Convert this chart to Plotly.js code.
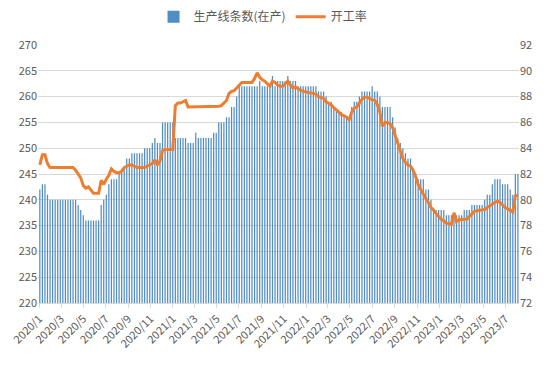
<!DOCTYPE html>
<html>
<head>
<meta charset="utf-8">
<script src="https://cdn.plot.ly/plotly-3.0.1.min.js"></script>
<style>
html,body{margin:0;padding:0;background:#fff;}
#chart{width:548px;height:372px;}
</style>
</head>
<body>
<div id="chart"></div>
<script>
// Weekly data, first week 2020-01-03
const startWeek = '2020-01-03';
const seriesNames = ['生产线条数(在产)', '开工率'];
const tickLabels = ['2020/1','2020/3','2020/5','2020/7','2020/9','2020/11',
  '2021/1','2021/3','2021/5','2021/7','2021/9','2021/11',
  '2022/1','2022/3','2022/5','2022/7','2022/9','2022/11',
  '2023/1','2023/3','2023/5','2023/7'];

const lines = [
  242,243,243,241,240,240,240,240,240,240,
  240,240,240,240,240,239,238,237,236,236,
  236,236,236,236,239,240,241,243,244,244,
  244,245,246,246,248,248,249,249,249,249,
  249,250,250,250,251,252,251,251,255,255,
  255,255,255,252,252,252,252,252,251,251,
  251,253,252,252,252,252,252,252,253,253,
  255,255,255,256,256,258,258,260,262,262,
  262,262,262,262,262,262,263,262,262,262,
  262,264,262,263,263,263,263,264,263,263,
  263,262,262,262,262,262,262,262,262,261,
  261,261,260,259,259,258,257,257,257,256,
  256,256,258,259,259,260,261,261,261,261,
  262,261,261,260,258,258,258,258,256,254,
  252,251,250,249,248,248,246,245,244,244,
  244,242,242,240,238,238,238,238,238,237,
  237,237,237,237,237,237,238,238,238,239,
  239,239,239,239,240,241,241,243,244,244,
  244,243,243,243,242,241,245,245
];

const rate = [
  82.7,83.5,83.5,82.8,82.5,82.5,82.5,82.5,82.5,82.5,
  82.5,82.5,82.5,82.5,82.3,82.0,81.7,81.1,80.9,81.0,
  80.7,80.5,80.5,80.5,81.5,81.2,81.6,81.9,82.4,82.2,
  82.1,82.1,82.2,82.5,82.6,82.7,82.7,82.6,82.5,82.5,
  82.5,82.5,82.6,82.7,82.8,83.1,82.7,83.0,83.8,83.9,
  83.9,83.9,83.9,87.3,87.5,87.5,87.6,87.7,87.2,87.2,
  87.2,87.2,87.2,87.2,87.2,87.2,87.2,87.2,87.2,87.2,
  87.25,87.3,87.5,87.7,88.25,88.4,88.46,88.7,88.9,89.1,
  89.1,89.1,89.1,89.1,89.4,89.85,89.5,89.3,89.2,89.0,
  88.8,89.2,89.1,88.9,88.8,88.8,89.0,89.2,88.9,88.65,
  88.75,88.6,88.5,88.4,88.35,88.3,88.25,88.25,88.2,88.0,
  87.9,87.85,87.6,87.5,87.35,87.15,86.95,86.75,86.6,86.5,
  86.4,86.2,86.8,87.1,87.2,87.5,87.8,87.95,87.95,87.85,
  87.8,87.7,87.4,86.8,85.7,86.0,86.0,85.9,85.6,85.0,
  84.3,83.7,83.2,82.9,82.7,82.6,82.3,81.8,81.2,80.8,
  80.4,80.1,79.8,79.4,79.2,78.9,78.7,78.5,78.35,78.2,
  78.15,78.1,79.0,78.3,78.45,78.5,78.5,78.5,78.7,78.9,
  79.1,79.15,79.2,79.2,79.25,79.4,79.5,79.65,79.8,79.9,
  79.8,79.6,79.4,79.3,79.2,79.05,80.3,80.35
];

const tickVals = tickLabels.map(s => {
  const [y, m] = s.split('/');
  return y + '-' + m.padStart(2, '0') + '-01';
});

const WEEK = 7 * 24 * 3600 * 1000;
const txtColor = '#595959';
const fontFam = '"Noto Sans CJK SC", "Liberation Sans", sans-serif';

const traces = [
  {
    type: 'bar',
    name: seriesNames[0],
    x0: startWeek, dx: WEEK,
    y: lines,
    marker: {color: '#4F8DC2', line: {width: 0}},
    yaxis: 'y',
    hoverinfo: 'skip'
  },
  {
    type: 'scatter',
    mode: 'lines',
    name: seriesNames[1],
    x0: startWeek, dx: WEEK,
    y: rate,
    line: {color: '#ED7D31', width: 3},
    yaxis: 'y2',
    hoverinfo: 'skip'
  }
];

const layout = {
  width: 548, height: 372,
  margin: {l: 38, r: 29, t: 45, b: 69, autoexpand: false},
  paper_bgcolor: '#ffffff',
  plot_bgcolor: '#ffffff',
  font: {family: fontFam, size: 11, color: txtColor},
  bargap: 0.52,
  showlegend: true,
  legend: {
    orientation: 'h',
    xref: 'container', yref: 'container',
    x: 0.48, xanchor: 'center',
    y: 0.955, yanchor: 'middle',
    font: {family: fontFam, size: 12, color: txtColor},
    itemwidth: 30,
    traceorder: 'normal'
  },
  xaxis: {
    type: 'date',
    range: ['2019-12-29', '2023-08-07'],
    tickmode: 'array',
    tickvals: tickVals,
    ticktext: tickLabels,
    tickangle: -45,
    ticks: 'outside',
    ticklen: 4,
    tickcolor: '#D9D9D9',
    showline: true,
    linecolor: '#D9D9D9',
    showgrid: false,
    zeroline: false,
    tickfont: {family: fontFam, size: 11, color: txtColor}
  },
  yaxis: {
    range: [220, 270],
    dtick: 5,
    tick0: 220,
    showgrid: true,
    gridcolor: '#D9D9D9',
    gridwidth: 1,
    zeroline: false,
    showline: false,
    ticks: '',
    tickfont: {family: fontFam, size: 11, color: txtColor}
  },
  yaxis2: {
    range: [72, 92],
    dtick: 2,
    tick0: 72,
    overlaying: 'y',
    side: 'right',
    showgrid: false,
    zeroline: false,
    showline: false,
    ticks: '',
    tickfont: {family: fontFam, size: 11, color: txtColor}
  }
};

Plotly.newPlot('chart', traces, layout, {displayModeBar: false, staticPlot: true});
</script>
</body>
</html>
